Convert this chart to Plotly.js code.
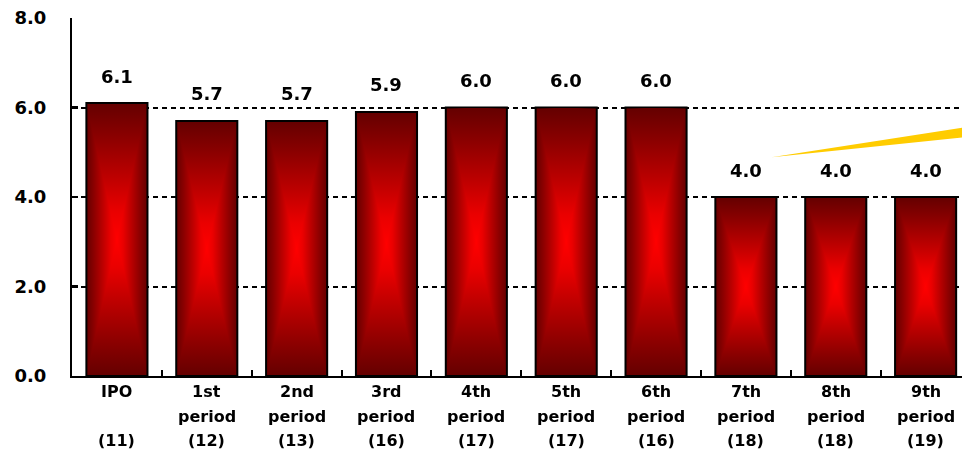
<!DOCTYPE html>
<html><head><meta charset="utf-8">
<script src="https://cdn.plot.ly/plotly-3.0.1.min.js"></script>
<style>html,body{margin:0;padding:0;overflow:hidden;background:#fff}</style>
</head><body>
<div id="chart" style="width:962px;height:453px"></div>
<script>
const categories = ['IPO','1st','2nd','3rd','4th','5th','6th','7th','8th','9th'];
const labelLine2 = ['','period','period','period','period','period','period','period','period','period'];
const labelLine3 = ['(11)','(12)','(13)','(16)','(17)','(17)','(16)','(18)','(18)','(19)'];
const values = [6.1,5.7,5.7,5.9,6.0,6.0,6.0,4.0,4.0,4.0];
const valueLabels = ['6.1','5.7','5.7','5.9','6.0','6.0','6.0','4.0','4.0','4.0'];
const yTickVals = [0,2,4,6,8];
const yTickText = ['0.0','2.0','4.0','6.0','8.0'];

const FONT = 'DejaVu Sans';
const annotations = [];
categories.forEach((c,i)=>{
  annotations.push({x:c, y:values[i], xref:'x', yref:'y', text:'<b>'+valueLabels[i]+'</b>', showarrow:false,
    yanchor:'middle', yshift:27, font:{family:FONT, size:18, color:'#000'}});
  const lines = [c, labelLine2[i], labelLine3[i]];
  const shifts = [-15,-40,-64];
  lines.forEach((t,k)=>{
    if(!t) return;
    annotations.push({x:c, y:0, xref:'x', yref:'paper', text:'<b>'+t+'</b>', showarrow:false,
      yanchor:'middle', yshift:shifts[k], font:{family:FONT, size:16, color:'#000'}});
  });
});

const data = [{
  type:'bar', x:categories, y:values,
  marker:{color:'#c00000', line:{color:'#000', width:2}},
  hoverinfo:'none'
}];

const layout = {
  width:962, height:453,
  margin:{l:72, r:0, t:18, b:77},
  paper_bgcolor:'#fff', plot_bgcolor:'#fff',
  bargap:0.32,
  showlegend:false,
  font:{family:FONT, color:'#000'},
  xaxis:{
    type:'category', range:[-0.5, 9.405],
    showticklabels:false, ticks:'inside', tickson:'boundaries', ticklen:6, tickwidth:2, tickcolor:'#000',
    showline:true, linecolor:'#000', linewidth:2, showgrid:false, zeroline:false, fixedrange:true
  },
  yaxis:{
    range:[0,8], tickvals:yTickVals, ticktext:yTickText.map(t=>'<b>'+t+'</b>'),
    ticks:'inside', ticklen:6, tickwidth:2.5, tickcolor:'#000',
    showline:true, linecolor:'#000', linewidth:2,
    showgrid:true, gridcolor:'#000', gridwidth:2, griddash:'5px,4px',
    zeroline:false, ticklabelstandoff:20,
    tickfont:{family:FONT, size:18, color:'#000'}, fixedrange:true
  },
  shapes:[{
    type:'path', xref:'paper', yref:'paper',
    path:'M0.786,0.611 L1.02,0.701 L1.02,0.671 Z',
    fillcolor:'#FFCC00', line:{width:0}
  }],
  annotations:annotations
};

Plotly.newPlot('chart', data, layout, {staticPlot:true}).then(gd=>{
  const ns = 'http://www.w3.org/2000/svg';
  const svg = gd.querySelector('.main-svg');
  let defs = svg.querySelector('defs');
  if(!defs){ defs = document.createElementNS(ns,'defs'); svg.insertBefore(defs, svg.firstChild); }
  const stops = [['0','#640000'],['0.12','#8a0000'],['0.28','#c00000'],['0.4','#ea0000'],['0.5','#ff0000'],
                 ['0.6','#ea0000'],['0.72','#c00000'],['0.88','#8a0000'],['1','#640000']];
  function grad(id, horiz){
    const g = document.createElementNS(ns,'linearGradient');
    g.setAttribute('id', id);
    g.setAttribute('x1','0'); g.setAttribute('y1','0');
    g.setAttribute('x2', horiz?'1':'0'); g.setAttribute('y2', horiz?'0':'1');
    stops.forEach(([o,c])=>{
      const s = document.createElementNS(ns,'stop');
      s.setAttribute('offset',o); s.setAttribute('stop-color',c);
      g.appendChild(s);
    });
    defs.appendChild(g);
  }
  grad('barGradH', true);
  grad('barGradV', false);
  gd.querySelectorAll('.bars .point path').forEach(p=>{
    p.style.fill = 'url(#barGradH)';
    const c = p.cloneNode(true);
    c.style.fill = 'url(#barGradV)';
    c.style.stroke = 'none';
    c.style.strokeWidth = '0';
    c.style.mixBlendMode = 'darken';
    p.parentNode.insertBefore(c, p.nextSibling);
  });
});
</script>
</body></html>
